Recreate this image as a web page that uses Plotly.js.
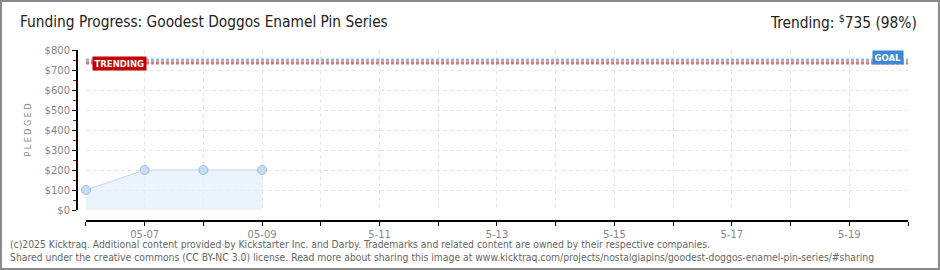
<!DOCTYPE html>
<html>
<head>
<meta charset="utf-8">
<script src="https://cdn.plot.ly/plotly-3.0.1.min.js"></script>
<style>
  html, body { margin: 0; padding: 0; background: #fff; }
  #wrap { position: relative; width: 940px; height: 270px; }
  #chart { width: 940px; height: 270px; }
  #frame { position: absolute; left: 0; top: 0; width: 940px; height: 270px; box-sizing: border-box; border: 2px solid #8a8a8a; pointer-events: none; }
</style>
</head>
<body>
<div id="wrap"><div id="chart"></div><div id="frame"></div></div>
<script>
// ---- data ----
const chartTitle = 'Funding Progress: Goodest Doggos Enamel Pin Series';
const trendingText = 'Trending: <sup>$</sup>735 (98%)';
const dates = ['2025-05-06', '2025-05-07', '2025-05-08', '2025-05-09'];
const pledged = [100, 200, 200, 200];
const goalValue = 750;
const trendingValue = 735;
const dayTicks = ['2025-05-06','2025-05-07','2025-05-08','2025-05-09','2025-05-10','2025-05-11','2025-05-12','2025-05-13','2025-05-14','2025-05-15','2025-05-16','2025-05-17','2025-05-18','2025-05-19','2025-05-20'];
const labelDates = ['2025-05-07','2025-05-09','2025-05-11','2025-05-13','2025-05-15','2025-05-17','2025-05-19'];
const labelTexts = ['05-07', '05-09', '5-11', '5-13', '5-15', '5-17', '5-19'];
const yTickVals = [0, 100, 200, 300, 400, 500, 600, 700, 800];
const yTickLabels = ['$0', '$100', '$200', '$300', '$400', '$500', '$600', '$700', '$800'];
const yMinorVals = [50, 150, 250, 350, 450, 550, 650, 750];
const xStart = '2025-05-06', xEnd = '2025-05-20';

const tickFont = { family: 'DejaVu Sans, sans-serif', size: 10, color: '#888' };
const headFont = { family: 'DejaVu Sans Condensed, DejaVu Sans, sans-serif', size: 15.3, color: '#222' };

const traces = [
  {
    x: [xStart, xEnd], y: [goalValue, goalValue], mode: 'lines', hoverinfo: 'skip',
    line: { color: '#8fb6e6', width: 3, dash: '3px,2px' }
  },
  {
    x: [xStart, xEnd], y: [trendingValue, trendingValue], mode: 'lines', hoverinfo: 'skip',
    line: { color: '#e07272', width: 3, dash: '3px,2px' }
  },
  {
    x: dates, y: pledged, mode: 'lines+markers', fill: 'tozeroy',
    fillcolor: 'rgba(226,238,251,0.7)', cliponaxis: false,
    line: { color: '#bcd6f2', width: 1 },
    marker: { size: 9, color: '#c6ddf6', line: { color: '#9dbde2', width: 1 } }
  }
];

const layout = {
  width: 940, height: 270,
  margin: { l: 76, r: 32, t: 50, b: 50 },
  paper_bgcolor: '#fff', plot_bgcolor: '#fff',
  showlegend: false,
  font: { family: 'DejaVu Sans, sans-serif' },
  xaxis: {
    type: 'date', range: [xStart, xEnd],
    domain: [0.012, 1],
    anchor: 'free', position: 0,
    tickmode: 'array', tickvals: labelDates, ticktext: labelTexts,
    tickfont: tickFont,
    showline: true, linecolor: '#000', linewidth: 1.5,
    ticks: 'outside', ticklen: 4, tickcolor: '#000', tickwidth: 1,
    showgrid: true, gridcolor: '#e6e6e6', griddash: '4px,3px', gridwidth: 1,
    minor: { tickmode: 'array', tickvals: dayTicks, ticks: 'outside', ticklen: 4, tickcolor: '#000', tickwidth: 1,
             showgrid: true, gridcolor: '#e6e6e6', griddash: '4px,3px', gridwidth: 1 },
    zeroline: false
  },
  yaxis: {
    range: [0, 800],
    domain: [0.0588, 1],
    anchor: 'free', position: 0,
    tickmode: 'array', tickvals: yTickVals, ticktext: yTickLabels,
    tickfont: tickFont,
    showline: true, linecolor: '#000', linewidth: 1.5,
    ticks: 'outside', ticklen: 4, tickcolor: '#000', tickwidth: 1,
    minor: { tickvals: yMinorVals, ticks: 'outside', ticklen: 3, tickcolor: '#e00000', showgrid: false },
    showgrid: true, gridcolor: '#e6e6e6', griddash: '4px,3px', gridwidth: 1,
    zeroline: false,
    title: { text: 'P L E D G E D', font: { family: 'DejaVu Sans, sans-serif', size: 8, color: '#888' }, standoff: 10 }
  },
  title: {
    text: chartTitle, x: 20 / 940, xanchor: 'left', xref: 'container',
    y: 1 - 22 / 270, yanchor: 'middle', yref: 'container',
    font: headFont
  },
  annotations: [
    {
      text: trendingText, xref: 'paper', yref: 'paper',
      x: (919 - 76) / 832, y: 1 + 28 / 170, xanchor: 'right', yanchor: 'middle',
      showarrow: false, font: headFont
    },
    {
      text: '<b>TRENDING</b>', x: '2025-05-06 02:30', y: trendingValue, xref: 'x', yref: 'y',
      xanchor: 'left', yanchor: 'middle', showarrow: false,
      bgcolor: '#c40000', borderpad: 1.5,
      font: { family: 'DejaVu Sans, sans-serif', size: 8.5, color: '#fff' }
    },
    {
      text: '<b>GOAL</b>', x: '2025-05-19 22:30', y: goalValue + 14, xref: 'x', yref: 'y',
      xanchor: 'right', yanchor: 'middle', showarrow: false,
      bgcolor: '#3b88d8', borderpad: 1.5,
      font: { family: 'DejaVu Sans, sans-serif', size: 8.5, color: '#fff' }
    },
    {
      text: '(c)2025 Kicktraq. Additional content provided by Kickstarter Inc. and Darby. Trademarks and related content are owned by their respective companies.<br>Shared under the creative commons (CC BY-NC 3.0) license. Read more about sharing this image at www.kicktraq.com/projects/nostalgiapins/goodest-doggos-enamel-pin-series/#sharing',
      xref: 'paper', yref: 'paper', x: -68 / 832, y: -16 / 170,
      xanchor: 'left', yanchor: 'top', align: 'left', showarrow: false,
      font: { family: 'DejaVu Sans Condensed, DejaVu Sans, sans-serif', size: 10.3, color: '#666' }
    }
  ]
};

Plotly.newPlot('chart', traces, layout, { staticPlot: true, displayModeBar: false });
</script>
</body>
</html>
